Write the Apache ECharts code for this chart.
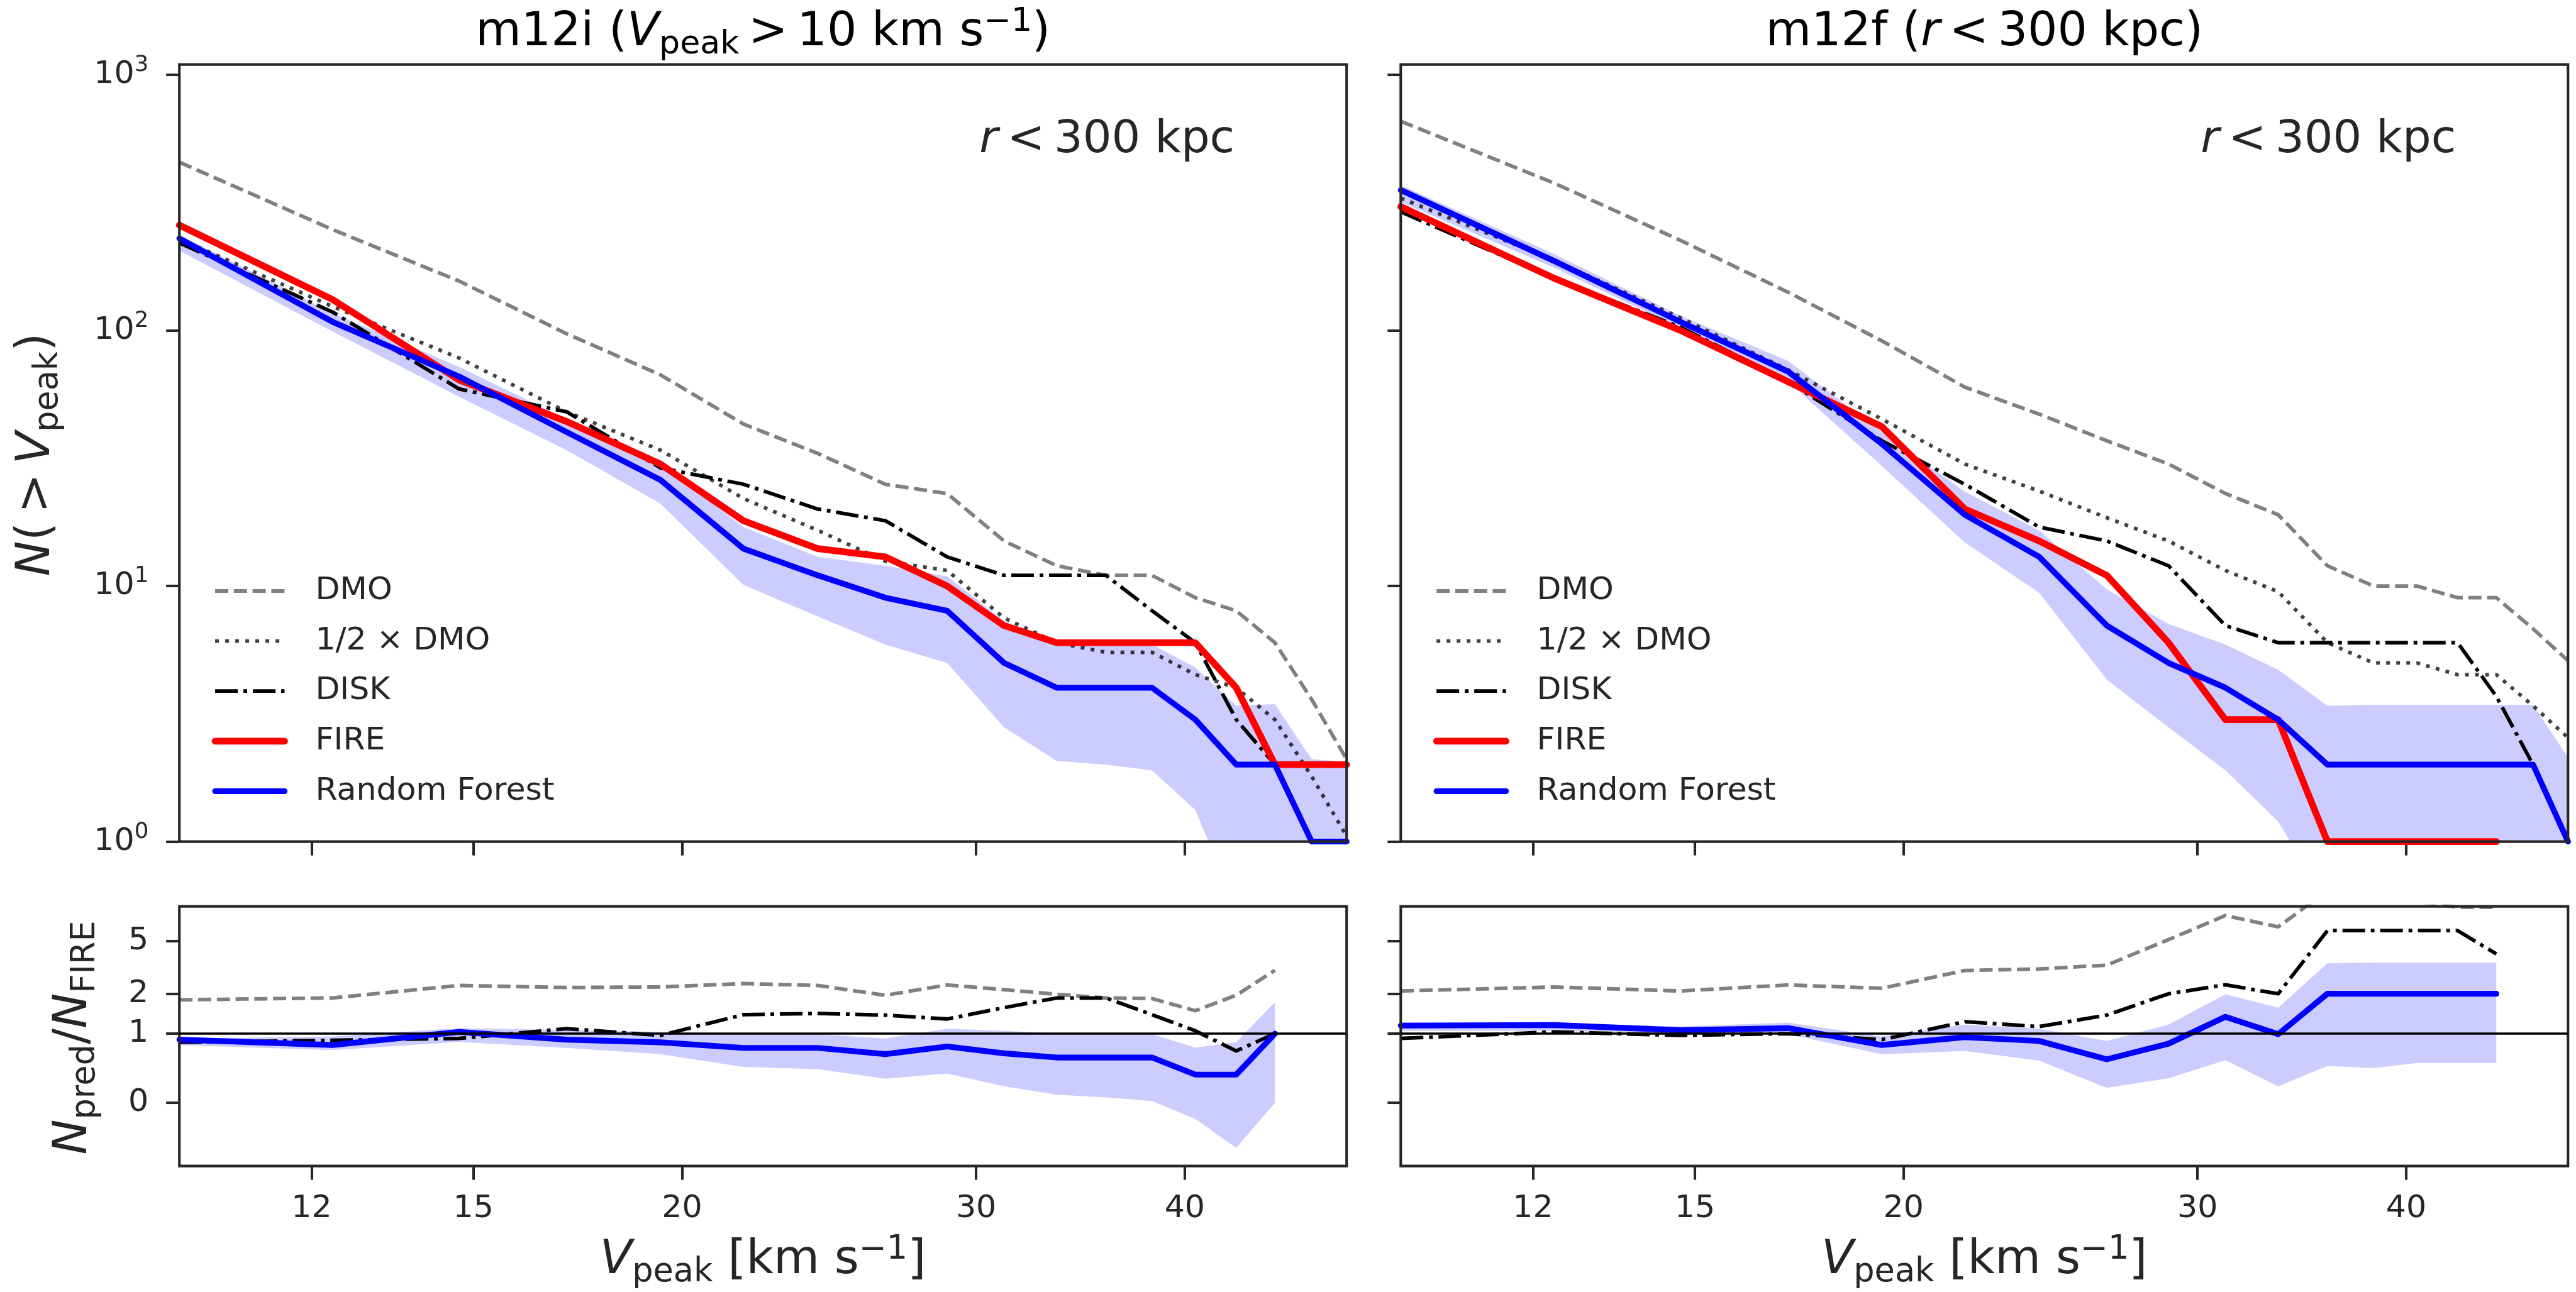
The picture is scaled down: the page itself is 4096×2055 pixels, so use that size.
<!DOCTYPE html>
<html><head><meta charset="utf-8">
<script src="https://cdn.jsdelivr.net/npm/echarts@6/dist/echarts.min.js"></script>
<style>html,body{margin:0;padding:0;background:#fff}#c{width:4096px;height:2055px}</style>
</head><body><div id="c"></div>
<script>
// ---------------- data ----------------
const vpeak = [10.000, 12.353, 14.706, 17.059, 19.412, 21.765, 24.118, 26.471, 28.824, 31.176, 33.529, 35.882, 38.235, 40.588, 42.941, 45.294, 47.647, 50.000];

// m12i, cumulative counts N(>Vpeak)
const dmo_m12i     = [455, 248, 156, 97, 67, 43, 33, 25, 23, 15, 12, 11, 11, 9, 8, 6, 3.6, 2.1];
const halfDmo_m12i = [228, 124, 78, 48, 34, 22, 16.5, 12.5, 11.5, 7.5, 6, 5.5, 5.5, 4.5, 4, 3, 1.8, 1.05];
const disk_m12i    = [220, 118, 59, 48, 29, 25, 20, 18, 13, 11, 11, 11, 8, 6, 3, 2, 1, 1];
const fire_m12i    = [258, 132, 64, 44, 30, 18, 14, 13, 10, 7, 6, 6, 6, 6, 4, 2, 2, 2];
const rf_m12i      = [229, 108, 66, 40, 26, 14, 11, 9, 8, 5, 4, 4, 4, 3, 2, 2, 1, 1];
const rfLo_m12i    = [205, 99, 55, 34, 21, 10.1, 7.6, 5.9, 5, 2.8, 2.07, 2, 1.9, 1.33, 0.55, 0.6, 0.5, 0.5];
const rfHi_m12i    = [237, 117, 72, 45, 30, 17, 13, 12, 10.9, 7.3, 6, 6, 5.9, 4.8, 3.4, 3.45, 2.1, 2.05];

// m12i, ratios N_pred / N_FIRE (first 16 bins)
const dmoRatio_m12i  = [1.80, 1.86, 2.31, 2.23, 2.25, 2.39, 2.31, 1.95, 2.33, 2.15, 1.98, 1.86, 1.84, 1.49, 1.95, 3.01];
const diskRatio_m12i = [0.86, 0.89, 0.92, 1.09, 0.97, 1.39, 1.42, 1.38, 1.29, 1.57, 1.86, 1.86, 1.39, 1.05, 0.74, 1.00];
const rfRatio_m12i   = [0.90, 0.82, 1.03, 0.90, 0.86, 0.78, 0.78, 0.70, 0.80, 0.71, 0.66, 0.66, 0.66, 0.49, 0.49, 1.00];
const rfRatioLo_m12i = [0.82, 0.75, 0.865, 0.78, 0.70, 0.56, 0.54, 0.457, 0.50, 0.40, 0.345, 0.33, 0.31, 0.227, 0.137, 0.30];
const rfRatioHi_m12i = [0.92, 0.95, 1.10, 1.065, 1.03, 0.99, 0.99, 0.92, 1.09, 1.05, 1.00, 0.99, 0.99, 0.785, 0.86, 1.73];

// m12f, cumulative counts
const dmo_m12f     = [658, 377, 225, 141, 91, 60, 47, 37, 30, 23, 19, 12, 10, 10, 9, 9, 6.8, 5.1];
const halfDmo_m12f = [329, 188, 112, 70, 45, 30, 23.5, 18.5, 15, 11.5, 9.5, 6, 5, 5, 4.5, 4.5, 3.4, 2.55];
const disk_m12f    = [291, 160, 103, 63, 37, 25, 17, 15, 12, 7, 6, 6, 6, 6, 6, 3.7, 2, 1];
const fire_m12f    = [305, 160, 100, 63, 42, 20, 15, 11, 6, 3, 3, 1, 1, 1, 1, 1, null, null];
const rf_m12f      = [354, 187, 108, 69, 36, 19, 13, 7, 5, 4, 3, 2, 2, 2, 2, 2, 2, 1];
const rfLo_m12f    = [318, 176, 102, 63, 29.5, 14.8, 9.4, 4.3, 2.8, 1.9, 1.2, 0.57, 0.55, 0.6, 0.6, 0.6, 0.5, 0.5];
const rfHi_m12f    = [370, 199, 114, 76, 40, 23.4, 16.5, 9.7, 7.1, 5.9, 4.7, 3.4, 3.43, 3.43, 3.43, 3.43, 3.43, 2.13];

// m12f, ratios
const dmoRatio_m12f  = [2.10, 2.25, 2.10, 2.33, 2.20, 3.00, 3.08, 3.29, 5.13, 7.80, 6.40, 12.0, 10.0, 10.0, 9.0, 9.0];
const diskRatio_m12f = [0.92, 1.03, 0.97, 1.00, 0.90, 1.23, 1.13, 1.38, 2.00, 2.34, 2.00, 6.0, 6.0, 6.0, 6.0, 4.0];
const rfRatio_m12f   = [1.15, 1.16, 1.06, 1.10, 0.82, 0.94, 0.88, 0.64, 0.84, 1.34, 0.99, 2.0, 2.0, 2.0, 2.0, 2.0];
const rfRatioLo_m12f = [1.05, 1.05, 0.99, 0.99, 0.70, 0.74, 0.625, 0.39, 0.46, 0.63, 0.40, 0.57, 0.55, 0.60, 0.60, 0.60];
const rfRatioHi_m12f = [1.21, 1.21, 1.13, 1.21, 0.95, 1.17, 1.09, 0.88, 1.17, 1.98, 1.57, 3.40, 3.43, 3.43, 3.43, 3.43];

// axes
const xRange = [10, 50];
const xTickValues = [12, 15, 20, 30, 40];
const xTickLabels = ['12', '15', '20', '30', '40'];
const nRange = [1, 1097];
const nTickValues = [1, 10, 100, 1000];
const nTickExponents = ['0', '1', '2', '3'];
const ratioRange = [0.1, 9.15];
const ratioTickValues = [0.3, 1, 2, 5];
const ratioTickLabels = ['0', '1', '2', '5'];
const unityRatio = 1;

const legendNames = ['DMO', '1/2 \u00d7 DMO', 'DISK', 'FIRE', 'Random Forest'];

// ---------------- styling / layout ----------------
const FONT = 'DejaVu Sans';
const INK = '#262626';
const TICK_FS = 50.6, LEG_FS = 50.5, BIG_FS = 75, TITLE_FS = 74.5, ANN_FS = 72;
const PANEL_W = 1856;
const G = [
  {left: 285.2, top: 102.6, width: PANEL_W, height: 1236},
  {left: 2227.3, top: 102.6, width: PANEL_W, height: 1236},
  {left: 285.2, top: 1441.6, width: PANEL_W, height: 413},
  {left: 2227.3, top: 1441.6, width: PANEL_W, height: 413}
];

const thin = 5.8;
const styles = {
  dmo:  {color: '#808080', width: thin, type: [20.9, 8.9], cap: 'butt', join: 'round'},
  half: {color: 'rgba(0,0,0,0.75)', width: thin, type: [6, 10], cap: 'butt', join: 'round'},
  disk: {color: '#000000', width: thin, type: [36, 9, 6, 9], cap: 'butt', join: 'round'},
  fire: {color: '#ff0000', width: 10.7, type: 'solid', cap: 'round', join: 'round'},
  rf:   {color: '#0000ff', width: 9.2, type: 'solid', cap: 'round', join: 'round'}
};
const legendStyles = [styles.dmo, styles.half, styles.disk, styles.fire, styles.rf];
const BAND = '#ccccff';

function nearestLabel(v, vals, labels) {
  let best = 0, bd = Infinity;
  vals.forEach((t, i) => { const d = Math.abs(Math.log(v) - Math.log(t)); if (d < bd) { bd = d; best = i; } });
  return labels[best];
}

function xAxisCfg(gi, showLabels) {
  return {
    type: 'log', logBase: 10, gridIndex: gi, min: xRange[0], max: xRange[1],
    axisLine: {show: false}, splitLine: {show: false}, minorTick: {show: false}, minorSplitLine: {show: false},
    axisTick: {show: true, inside: false, length: 22, lineStyle: {color: INK, width: 4.1}, customValues: xTickValues},
    axisLabel: {show: showLabels, customValues: xTickValues, margin: 42, fontSize: TICK_FS, lineHeight: 52,
      fontFamily: FONT, color: INK, formatter: v => nearestLabel(v, xTickValues, xTickLabels)}
  };
}
function yCountAxis(gi, showLabels) {
  const F = TICK_FS;
  return {
    type: 'log', logBase: 10, gridIndex: gi, min: nRange[0], max: nRange[1],
    axisLine: {show: false}, splitLine: {show: false}, minorTick: {show: false}, minorSplitLine: {show: false},
    axisTick: {show: true, inside: false, length: 21, lineStyle: {color: INK, width: 4.1}, customValues: nTickValues},
    axisLabel: {show: showLabels, customValues: nTickValues, margin: 49,
      formatter: v => '{m|10}{s|' + nearestLabel(v, nTickValues, nTickExponents) + '}',
      rich: {
        m: {fontSize: F, fontFamily: FONT, color: INK, lineHeight: 1.5 * F},
        s: {fontSize: 0.7 * F, fontFamily: FONT, color: INK, height: 0.91 * F, lineHeight: 0.91 * F, verticalAlign: 'top'}
      }}
  };
}
function yRatioAxis(gi, showLabels) {
  return {
    type: 'log', logBase: 10, gridIndex: gi, min: ratioRange[0], max: ratioRange[1],
    axisLine: {show: false}, splitLine: {show: false}, minorTick: {show: false}, minorSplitLine: {show: false},
    axisTick: {show: true, inside: false, length: 21, lineStyle: {color: INK, width: 4.1}, customValues: ratioTickValues},
    axisLabel: {show: showLabels, customValues: ratioTickValues, margin: 49, fontSize: TICK_FS, fontFamily: FONT, color: INK,
      formatter: v => nearestLabel(v, ratioTickValues, ratioTickLabels)}
  };
}

function lineSeries(name, ax, ys, st) {
  const data = [];
  ys.forEach((y, i) => { if (y !== null) data.push([vpeak[i], y]); });
  return {
    type: 'line', name: name, xAxisIndex: ax, yAxisIndex: ax, data: data,
    symbol: 'none', showSymbol: false, silent: true, clip: true, animation: false, z: 2,
    itemStyle: {color: st.color}, lineStyle: Object.assign({}, st), emphasis: {disabled: true}
  };
}
function bandSeries(ax, lo, hi) {
  const xs = vpeak.slice(0, lo.length);
  return {
    type: 'custom', xAxisIndex: ax, yAxisIndex: ax, silent: true, animation: false, z: 1,
    data: xs.map((x, i) => [x, lo[i], hi[i]]),
    encode: {x: 0, y: [1, 2]},
    renderItem: function (params, api) {
      if (params.dataIndex !== 0) return null;
      const up = xs.map((x, i) => api.coord([x, hi[i]]));
      const dn = xs.map((x, i) => api.coord([x, lo[i]])).reverse();
      const cs = params.coordSys;
      return {
        type: 'polygon', shape: {points: up.concat(dn)}, style: {fill: BAND},
        clipPath: {type: 'rect', shape: {x: cs.x, y: cs.y, width: cs.width, height: cs.height}}
      };
    }
  };
}

function panelSeries(ax, dmo, half, disk, fire, rf, lo, hi) {
  return [
    bandSeries(ax, lo, hi),
    lineSeries(legendNames[0], ax, dmo, styles.dmo),
    lineSeries(legendNames[1], ax, half, styles.half),
    lineSeries(legendNames[2], ax, disk, styles.disk),
    lineSeries(legendNames[3], ax, fire, styles.fire),
    lineSeries(legendNames[4], ax, rf, styles.rf)
  ];
}
function ratioSeries(ax, dmoR, diskR, rfR, lo, hi) {
  const rfS = lineSeries(legendNames[4], ax, rfR, styles.rf);
  rfS.markLine = {
    silent: true, symbol: ['none', 'none'], animation: false, label: {show: false},
    lineStyle: {color: '#000000', width: 3.7, type: 'solid'}, emphasis: {disabled: true},
    data: [{yAxis: unityRatio}]
  };
  return [
    bandSeries(ax, lo, hi),
    lineSeries(legendNames[0], ax, dmoR, styles.dmo),
    lineSeries(legendNames[2], ax, diskR, styles.disk),
    rfS
  ];
}

function legendCfg(left) {
  return {
    show: true, orient: 'vertical', left: left, top: 910, padding: 0,
    data: legendNames.map((n, k) => ({
      name: n,
      lineStyle: {width: legendStyles[k].width, type: legendStyles[k].type, color: legendStyles[k].color,
        cap: legendStyles[k].cap, opacity: 1}
    })),
    selectedMode: false,
    itemWidth: 110.4, itemHeight: 14, itemGap: 19.6,
    itemStyle: {opacity: 0},
    textStyle: {fontSize: LEG_FS, fontFamily: FONT, color: INK, lineHeight: 60, padding: [0, 0, 0, 44]}
  };
}

function richSet(F, color) {
  return {
    m:   {fontSize: F, fontFamily: FONT, fill: color, lineHeight: 1.5 * F},
    i:   {fontSize: F, fontFamily: FONT, fontStyle: 'italic', fill: color, lineHeight: 1.5 * F},
    sub: {fontSize: 0.7 * F, fontFamily: FONT, fill: color, height: 1.0 * F, lineHeight: 1.0 * F, verticalAlign: 'bottom'},
    sup: {fontSize: 0.7 * F, fontFamily: FONT, fill: color, height: 1.03 * F, lineHeight: 1.03 * F, verticalAlign: 'top'}
  };
}
function txt(text, x, y, F, color, align, rot) {
  return {
    type: 'text', x: x, y: y, rotation: rot || 0, silent: true, z: 10,
    style: {text: text, rich: richSet(F, color), align: align || 'center', verticalAlign: 'middle',
      fontSize: F, fontFamily: FONT, fill: color}
  };
}

const cxL = G[0].left + PANEL_W / 2, cxR = G[1].left + PANEL_W / 2;
const TS = '\u2009';
const graphicEls = [
  txt('{m|m12i (}{i|V}{sub|peak}{m|' + TS + '>' + TS + '10 km s}{sup|\u22121}{m|)}', cxL, 53, TITLE_FS, '#000000'),
  txt('{m|m12f (}{i|r}{m|' + TS + '<' + TS + '300 kpc)}', cxR, 53, TITLE_FS, '#000000'),
  txt('{i|r}{m|' + TS + '<' + TS + '300 kpc}', G[0].left + 1272, 223.5, ANN_FS, INK, 'left'),
  txt('{i|r}{m|' + TS + '<' + TS + '300 kpc}', G[1].left + 1272, 223.5, ANN_FS, INK, 'left'),
  txt('{i|V}{sub|peak}{m| [km s}{sup|\u22121}{m|]}', cxL, 2005.5, BIG_FS, INK),
  txt('{i|V}{sub|peak}{m| [km s}{sup|\u22121}{m|]}', cxR, 2005.5, BIG_FS, INK),
  txt('{i|N}{m|(' + TS + '>' + TS + '}{i|V}{sub|peak}{m|)}', 59, 723, BIG_FS, INK, 'center', Math.PI / 2),
  txt('{i|N}{sub|pred}{m|/}{i|N}{sub|FIRE}', 117.4, 1650.5, BIG_FS, INK, 'center', Math.PI / 2)
];

const option = {
  animation: false,
  backgroundColor: '#ffffff',
  textStyle: {fontFamily: FONT},
  grid: G.map(g => Object.assign({show: true, borderColor: INK, borderWidth: 4.1, backgroundColor: 'transparent',
    containLabel: false, outerBoundsMode: 'none', z: 5}, g)),
  xAxis: [xAxisCfg(0, false), xAxisCfg(1, false), xAxisCfg(2, true), xAxisCfg(3, true)],
  yAxis: [yCountAxis(0, true), yCountAxis(1, false), yRatioAxis(2, true), yRatioAxis(3, false)],
  legend: [legendCfg(G[0].left + 51.5), legendCfg(G[1].left + 51.5)],
  series: [].concat(
    panelSeries(0, dmo_m12i, halfDmo_m12i, disk_m12i, fire_m12i, rf_m12i, rfLo_m12i, rfHi_m12i),
    panelSeries(1, dmo_m12f, halfDmo_m12f, disk_m12f, fire_m12f, rf_m12f, rfLo_m12f, rfHi_m12f),
    ratioSeries(2, dmoRatio_m12i, diskRatio_m12i, rfRatio_m12i, rfRatioLo_m12i, rfRatioHi_m12i),
    ratioSeries(3, dmoRatio_m12f, diskRatio_m12f, rfRatio_m12f, rfRatioLo_m12f, rfRatioHi_m12f)
  ),
  graphic: {elements: graphicEls}
};

const chart = echarts.init(document.getElementById('c'), null, {renderer: 'canvas', width: 4096, height: 2055});
chart.setOption(option);
</script></body></html>
